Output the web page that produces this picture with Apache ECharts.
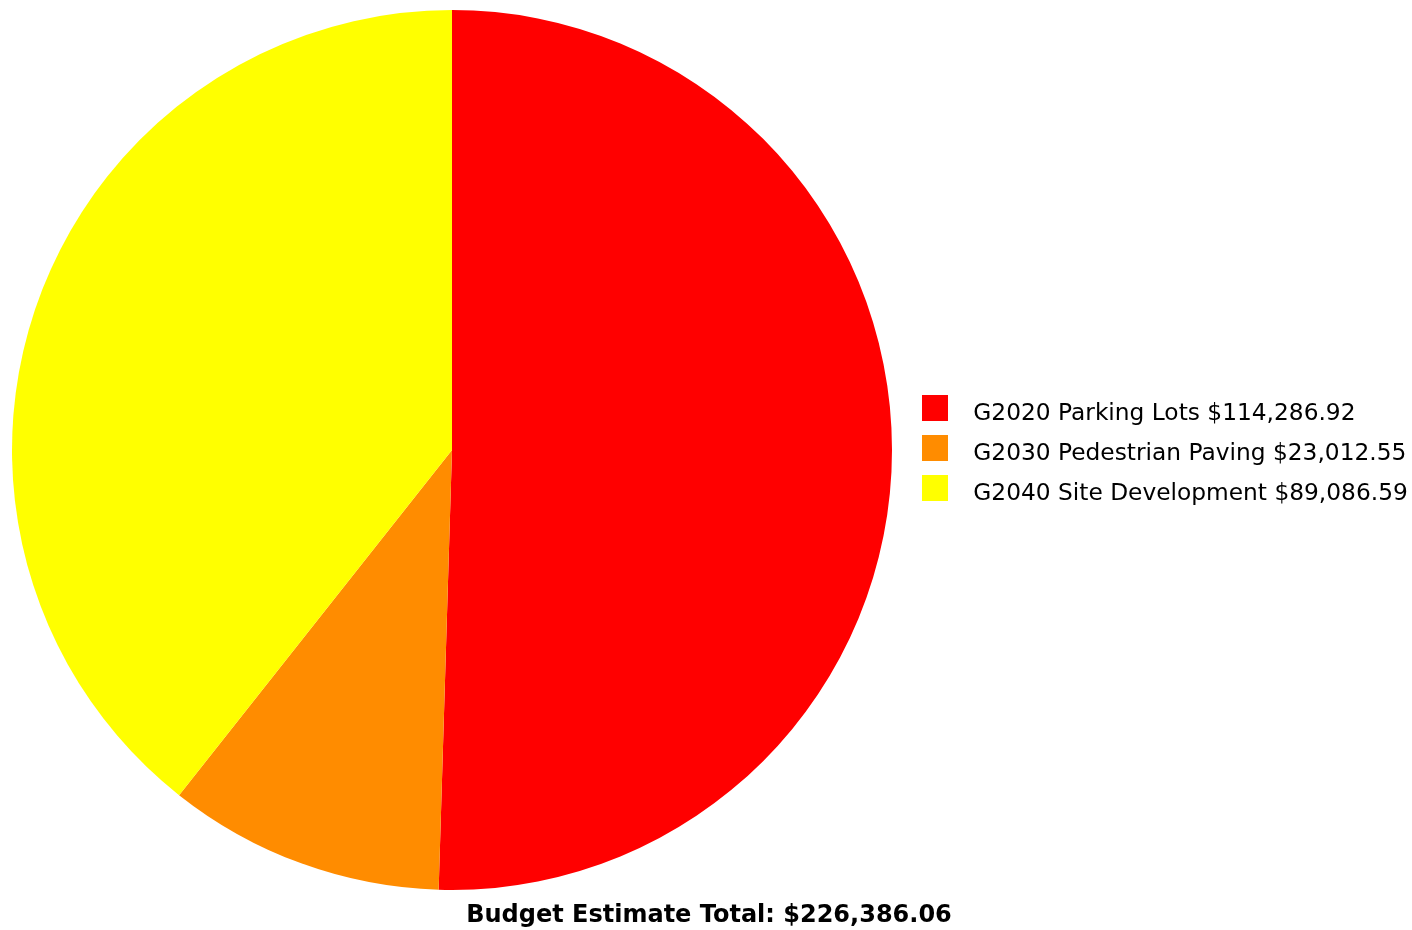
<!DOCTYPE html>
<html>
<head>
<meta charset="utf-8">
<script src="https://cdn.jsdelivr.net/npm/echarts@6/dist/echarts.min.js"></script>
<style>
  html, body { margin: 0; padding: 0; background: #fff; }
  #chart { width: 1412px; height: 930px; }
</style>
</head>
<body>
<div id="chart"></div>
<script>
// Budget categories and their estimated costs
const categories = ['G2020 Parking Lots', 'G2030 Pedestrian Paving', 'G2040 Site Development'];
const costs = [114286.92, 23012.55, 89086.59];
const colors = ['#ff0000', '#ff8c00', '#ffff00'];

const money = v => '$' + v.toLocaleString('en-US', { minimumFractionDigits: 2, maximumFractionDigits: 2 });
const total = Math.round(costs.reduce((a, b) => a + b, 0) * 100) / 100;

const chart = echarts.init(document.getElementById('chart'), null, { renderer: 'canvas' });
chart.setOption({
  animation: false,
  backgroundColor: '#ffffff',
  color: colors,
  title: {
    text: 'Budget Estimate Total: ' + money(total),
    left: 709,
    textAlign: 'center',
    top: 904,
    padding: 0,
    textStyle: { fontFamily: 'DejaVu Sans', fontWeight: 'bold', fontSize: 24, color: '#000' }
  },
  legend: {
    orient: 'vertical',
    left: 922,
    top: 395,
    padding: 0,
    itemWidth: 26,
    itemHeight: 26,
    itemGap: 10,
    icon: 'rect',
    data: categories,
    // a tall spacer token lets the label sit slightly below the swatch centre
    formatter: name => '{s| }{t|' + name + ' ' + money(costs[categories.indexOf(name)]) + '}',
    textStyle: {
      padding: [0, 0, 0, 20],
      rich: {
        s: { fontSize: 1, lineHeight: 34 },
        t: { fontFamily: 'DejaVu Sans', fontSize: 23.3, color: '#000', lineHeight: 26, verticalAlign: 'bottom' }
      }
    }
  },
  series: [{
    type: 'pie',
    center: [452, 450],
    radius: 440,
    startAngle: 90,
    clockwise: true,
    label: { show: false },
    labelLine: { show: false },
    emphasis: { disabled: true },
    data: categories.map((c, i) => ({ name: c, value: costs[i] }))
  }]
});
</script>
</body>
</html>
